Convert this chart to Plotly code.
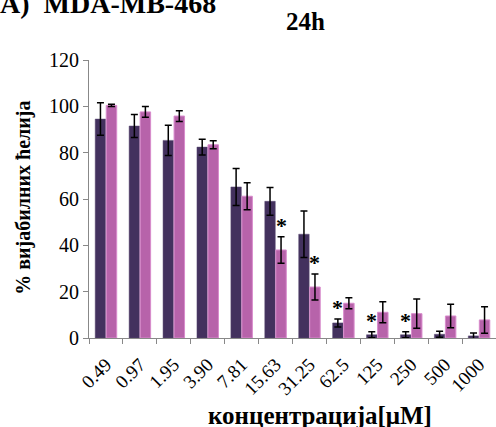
import plotly.graph_objects as go

categories = ["0.49", "0.97", "1.95", "3.90", "7.81", "15.63", "31.25", "62.5", "125", "250", "500", "1000"]
dark_vals = [94.5, 91.5, 85.3, 82.4, 65.2, 59.0, 44.8, 6.5, 1.4, 1.4, 1.6, 0.9]
dark_err = [7.0, 5.0, 6.5, 3.4, 8.0, 6.0, 10.0, 1.7, 1.3, 1.3, 1.3, 1.3]
pink_vals = [100.4, 97.6, 95.8, 83.4, 61.2, 38.0, 22.0, 15.0, 11.1, 10.5, 9.5, 7.8]
pink_err = [0.5, 2.3, 2.3, 1.7, 5.8, 5.7, 5.6, 2.4, 4.5, 6.3, 5.1, 5.7]
# significance markers: (category, series)
stars = [("15.63", "pink"), ("31.25", "pink"), ("62.5", "dark"), ("125", "dark"), ("250", "dark")]

FONT = "Liberation Serif"
DARK = "#43315e"
PINK = "#b763aa"

fig = go.Figure()
fig.add_trace(go.Bar(
    x=categories, y=dark_vals, marker=dict(color=DARK, line=dict(color="#5a4a72", width=0.5)),
    error_y=dict(type="data", array=dark_err, color="black", thickness=1.5, width=3.5),
))
fig.add_trace(go.Bar(
    x=categories, y=pink_vals, marker=dict(color=PINK, line=dict(color="#d88bcc", width=1)),
    error_y=dict(type="data", array=pink_err, color="black", thickness=1.5, width=3.5),
))

annotations = []
for cat, ser in stars:
    i = categories.index(cat)
    if ser == "dark":
        top = dark_vals[i] + dark_err[i]
        shift = -5.5
    else:
        top = pink_vals[i] + pink_err[i]
        shift = 5.5
    annotations.append(dict(x=i, y=top, xref="x", yref="y", text="<b>*</b>", showarrow=False,
                            xshift=shift, yanchor="bottom", yshift=-3,
                            font=dict(family=FONT, size=22, color="black")))

annotations += [
    dict(x=0.533, y=1.137, xref="paper", yref="paper", text="<b>24h</b>", showarrow=False,
         xanchor="center", yanchor="middle", font=dict(family=FONT, size=25, color="black")),
    dict(x=-0.2235, y=1.203, xref="paper", yref="paper", text="<b>A)&nbsp; MDA-MB-468</b>", showarrow=False,
         xanchor="left", yanchor="middle", font=dict(family=FONT, size=28, color="black")),
    dict(x=0.568, y=-0.28, xref="paper", yref="paper", text="<b>концентрација[μM]</b>", showarrow=False,
         xanchor="center", yanchor="middle", font=dict(family=FONT, size=25, color="black")),
    dict(x=-0.16, y=0.504, xref="paper", yref="paper", text="<b>% вијабилних ћелија</b>", showarrow=False,
         xanchor="center", yanchor="middle", textangle=-90, font=dict(family=FONT, size=20, color="black")),
]

fig.update_layout(
    width=496, height=427,
    margin=dict(l=89, r=0, t=60, b=89, autoexpand=False),
    paper_bgcolor="white", plot_bgcolor="white",
    showlegend=False,
    barmode="group", bargap=0.35, bargroupgap=0.05,
    font=dict(family=FONT, size=18, color="black"),
    annotations=annotations,
    xaxis=dict(type="category", range=[-0.5, len(categories) - 0.5], tickson="boundaries",
               ticks="outside", ticklen=5, tickcolor="#888", automargin=False,
               showline=True, linecolor="#888", linewidth=1, tickangle=-45, ticklabelstandoff=7,
               tickfont=dict(family=FONT, size=19), showgrid=False),
    yaxis=dict(range=[0, 120], dtick=20, ticks="outside", ticklen=5, tickcolor="#888",
               showline=True, linecolor="#888", linewidth=1, showgrid=False, zeroline=False,
               automargin=False, tickfont=dict(family=FONT, size=20)),
)

fig.write_html("out.html", config={"displayModeBar": False},
               post_script="document.body.style.margin='0';")
